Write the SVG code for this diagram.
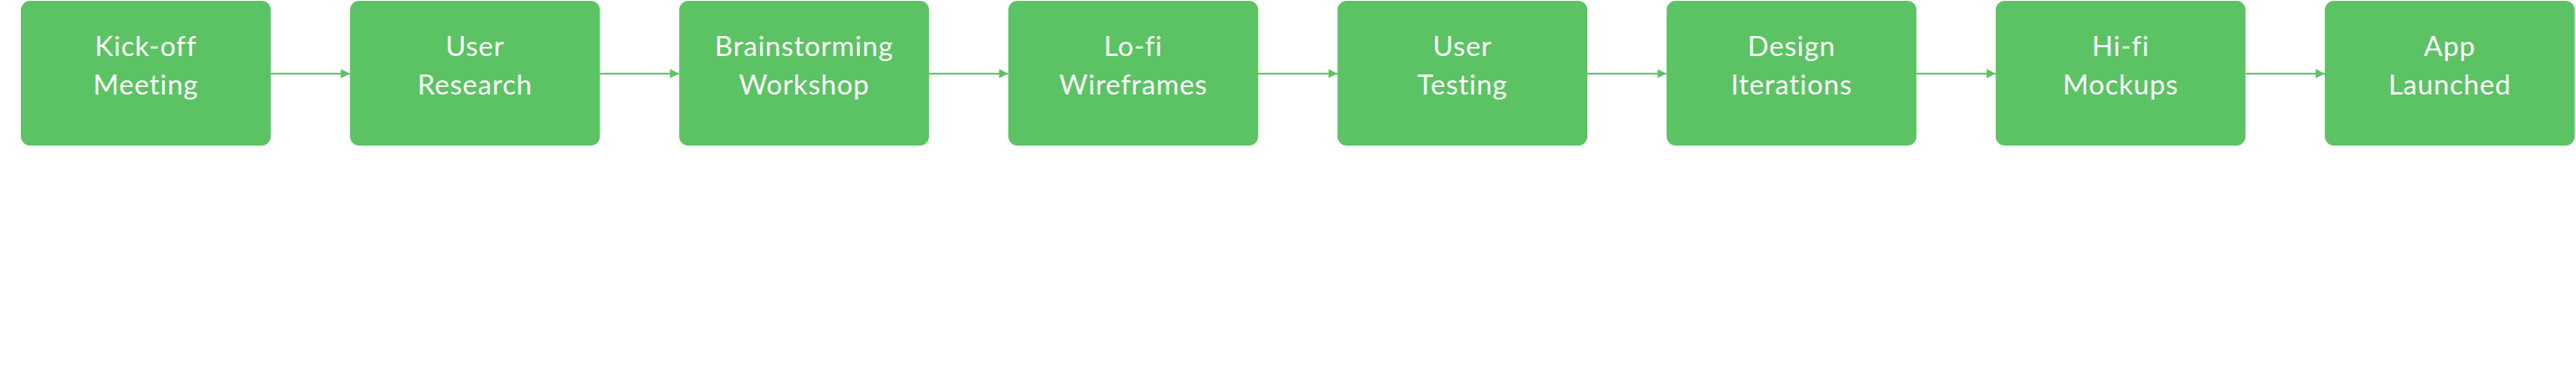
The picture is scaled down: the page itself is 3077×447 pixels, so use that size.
<svg xmlns="http://www.w3.org/2000/svg" width="3077" height="447" viewBox="0 0 3077 447">
<style>
.box{fill:#5BC363}
.lbl{font-family:Lato,"Open Sans","Liberation Sans",sans-serif;font-size:33px;letter-spacing:0.8px;font-variant-ligatures:none;fill:#FFFFFF;text-anchor:middle}
.con{stroke:#5BC363;stroke-width:2;fill:none}
</style>
<defs>
<marker id="ah" markerUnits="userSpaceOnUse" markerWidth="12" markerHeight="12" refX="11" refY="6" orient="auto">
<path d="M0,0.5 L11,6 L0,11.5 Z" fill="#5BC363"/>
</marker>
</defs>
<rect width="3077" height="447" fill="#FFFFFF"/>
<g id="connectors">
<line class="con" x1="323.5" y1="88" x2="418.1" y2="88" marker-end="url(#ah)"/>
<line class="con" x1="716.6" y1="88" x2="811.3" y2="88" marker-end="url(#ah)"/>
<line class="con" x1="1109.8" y1="88" x2="1204.4" y2="88" marker-end="url(#ah)"/>
<line class="con" x1="1502.9" y1="88" x2="1597.6" y2="88" marker-end="url(#ah)"/>
<line class="con" x1="1896.1" y1="88" x2="1990.7" y2="88" marker-end="url(#ah)"/>
<line class="con" x1="2289.2" y1="88" x2="2383.8" y2="88" marker-end="url(#ah)"/>
<line class="con" x1="2682.3" y1="88" x2="2777" y2="88" marker-end="url(#ah)"/>
</g>
<g id="n1"><rect class="box" x="25" y="1" width="298.5" height="173" rx="11"/><text class="lbl" x="174.2" y="67">Kick-off</text><text class="lbl" x="174.2" y="112.5">Meeting</text></g>
<g id="n2"><rect class="box" x="418.1" y="1" width="298.5" height="173" rx="11"/><text class="lbl" x="567.4" y="67">User</text><text class="lbl" x="567.4" y="112.5">Research</text></g>
<g id="n3"><rect class="box" x="811.3" y="1" width="298.5" height="173" rx="11"/><text class="lbl" x="960.5" y="67">Brainstorming</text><text class="lbl" x="960.5" y="112.5">Workshop</text></g>
<g id="n4"><rect class="box" x="1204.4" y="1" width="298.5" height="173" rx="11"/><text class="lbl" x="1353.7" y="67">Lo-fi</text><text class="lbl" x="1353.7" y="112.5">Wireframes</text></g>
<g id="n5"><rect class="box" x="1597.6" y="1" width="298.5" height="173" rx="11"/><text class="lbl" x="1746.8" y="67">User</text><text class="lbl" x="1746.8" y="112.5">Testing</text></g>
<g id="n6"><rect class="box" x="1990.7" y="1" width="298.5" height="173" rx="11"/><text class="lbl" x="2140" y="67">Design</text><text class="lbl" x="2140" y="112.5">Iterations</text></g>
<g id="n7"><rect class="box" x="2383.8" y="1" width="298.5" height="173" rx="11"/><text class="lbl" x="2533.1" y="67">Hi-fi</text><text class="lbl" x="2533.1" y="112.5">Mockups</text></g>
<g id="n8"><rect class="box" x="2777" y="1" width="298.5" height="173" rx="11"/><text class="lbl" x="2926.2" y="67">App</text><text class="lbl" x="2926.2" y="112.5">Launched</text></g>
</svg>
